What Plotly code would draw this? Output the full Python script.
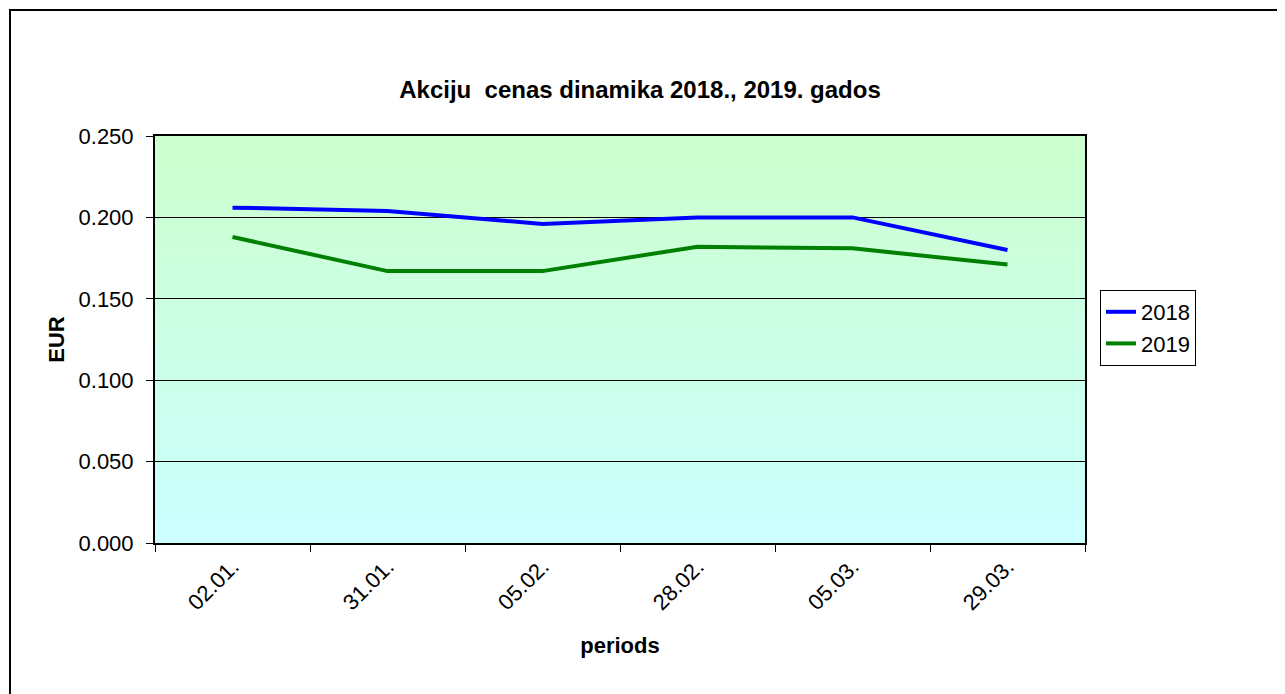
import plotly.graph_objects as go

categories = ["02.01.", "31.01.", "05.02.", "28.02.", "05.03.", "29.03."]
series_2018 = [0.206, 0.204, 0.196, 0.200, 0.200, 0.180]
series_2019 = [0.188, 0.167, 0.167, 0.182, 0.181, 0.171]
y_ticks = [0.0, 0.05, 0.10, 0.15, 0.20, 0.25]
y_ticklabels = ["0.000", "0.050", "0.100", "0.150", "0.200", "0.250"]

OFF = 8  # page body margin
W, H = 1285 - OFF, 694 - OFF
L, T = 155 - OFF, 136 - OFF
pw, ph = 930, 407
R = W - L - pw
B = H - T - ph


def px_x(x):
    return (x - OFF - L) / pw


def px_y(y):
    return (T + ph - (y - OFF)) / ph


fig = go.Figure()
fig.add_trace(go.Scatter(x=categories, y=series_2018, name="2018", mode="lines",
                         line=dict(color="#0000ff", width=4)))
fig.add_trace(go.Scatter(x=categories, y=series_2019, name="2019", mode="lines",
                         line=dict(color="#008000", width=4)))

# gradient background strips
n = 60
top = (204, 255, 204)
bot = (204, 255, 255)
shapes = []
for i in range(n):
    t = (i + 0.5) / n
    c = tuple(round(bot[k] + (top[k] - bot[k]) * t) for k in range(3))
    shapes.append(dict(type="rect", xref="x domain", yref="y domain",
                       x0=0, x1=1, y0=i / n, y1=(i + 1) / n + 0.002,
                       fillcolor="rgb(%d,%d,%d)" % c, line=dict(width=0), layer="below"))
# outer border
shapes.append(dict(type="rect", xref="paper", yref="paper",
                   x0=px_x(10), x1=px_x(1300), y0=px_y(710), y1=px_y(10),
                   line=dict(color="black", width=2), fillcolor="rgba(0,0,0,0)", layer="below"))

fig.update_layout(
    width=W, height=H,
    margin=dict(l=L, r=R, t=T, b=B),
    paper_bgcolor="white", plot_bgcolor="white",
    font=dict(family="Liberation Sans, Arial, sans-serif", size=22, color="black"),
    title=dict(text="<b>Akciju  cenas dinamika 2018., 2019. gados</b>",
               x=(640 - OFF) / W, xanchor="center", y=1 - (90 - OFF) / H, yanchor="middle",
               font=dict(size=24)),
    shapes=shapes,
    showlegend=True,
    legend=dict(x=px_x(1100), y=px_y(290), xanchor="left", yanchor="top",
                bordercolor="black", borderwidth=1, bgcolor="white",
                font=dict(size=22), tracegroupgap=0),
)
fig.update_xaxes(
    type="category", range=[-0.5, 5.5], tickangle=-45,
    tickson="boundaries", ticks="outside", ticklen=7, tickcolor="black", tickwidth=1,
    showline=True, linecolor="black", linewidth=2, mirror=True,
    showgrid=False, zeroline=False, tickfont=dict(size=22),
    title=dict(text="<b>periods</b>", font=dict(size=22), standoff=24),
)
fig.update_yaxes(
    range=[0, 0.25], tickvals=y_ticks, ticktext=y_ticklabels,
    ticks="outside", ticklen=7, tickcolor="black", tickwidth=1, ticklabelstandoff=8,
    showline=True, linecolor="black", linewidth=2, mirror=True,
    showgrid=True, gridcolor="black", gridwidth=1, zeroline=False, tickfont=dict(size=22),
    title=dict(text="<b>EUR</b>", font=dict(size=22), standoff=8),
)

fig.write_html("out.html")
